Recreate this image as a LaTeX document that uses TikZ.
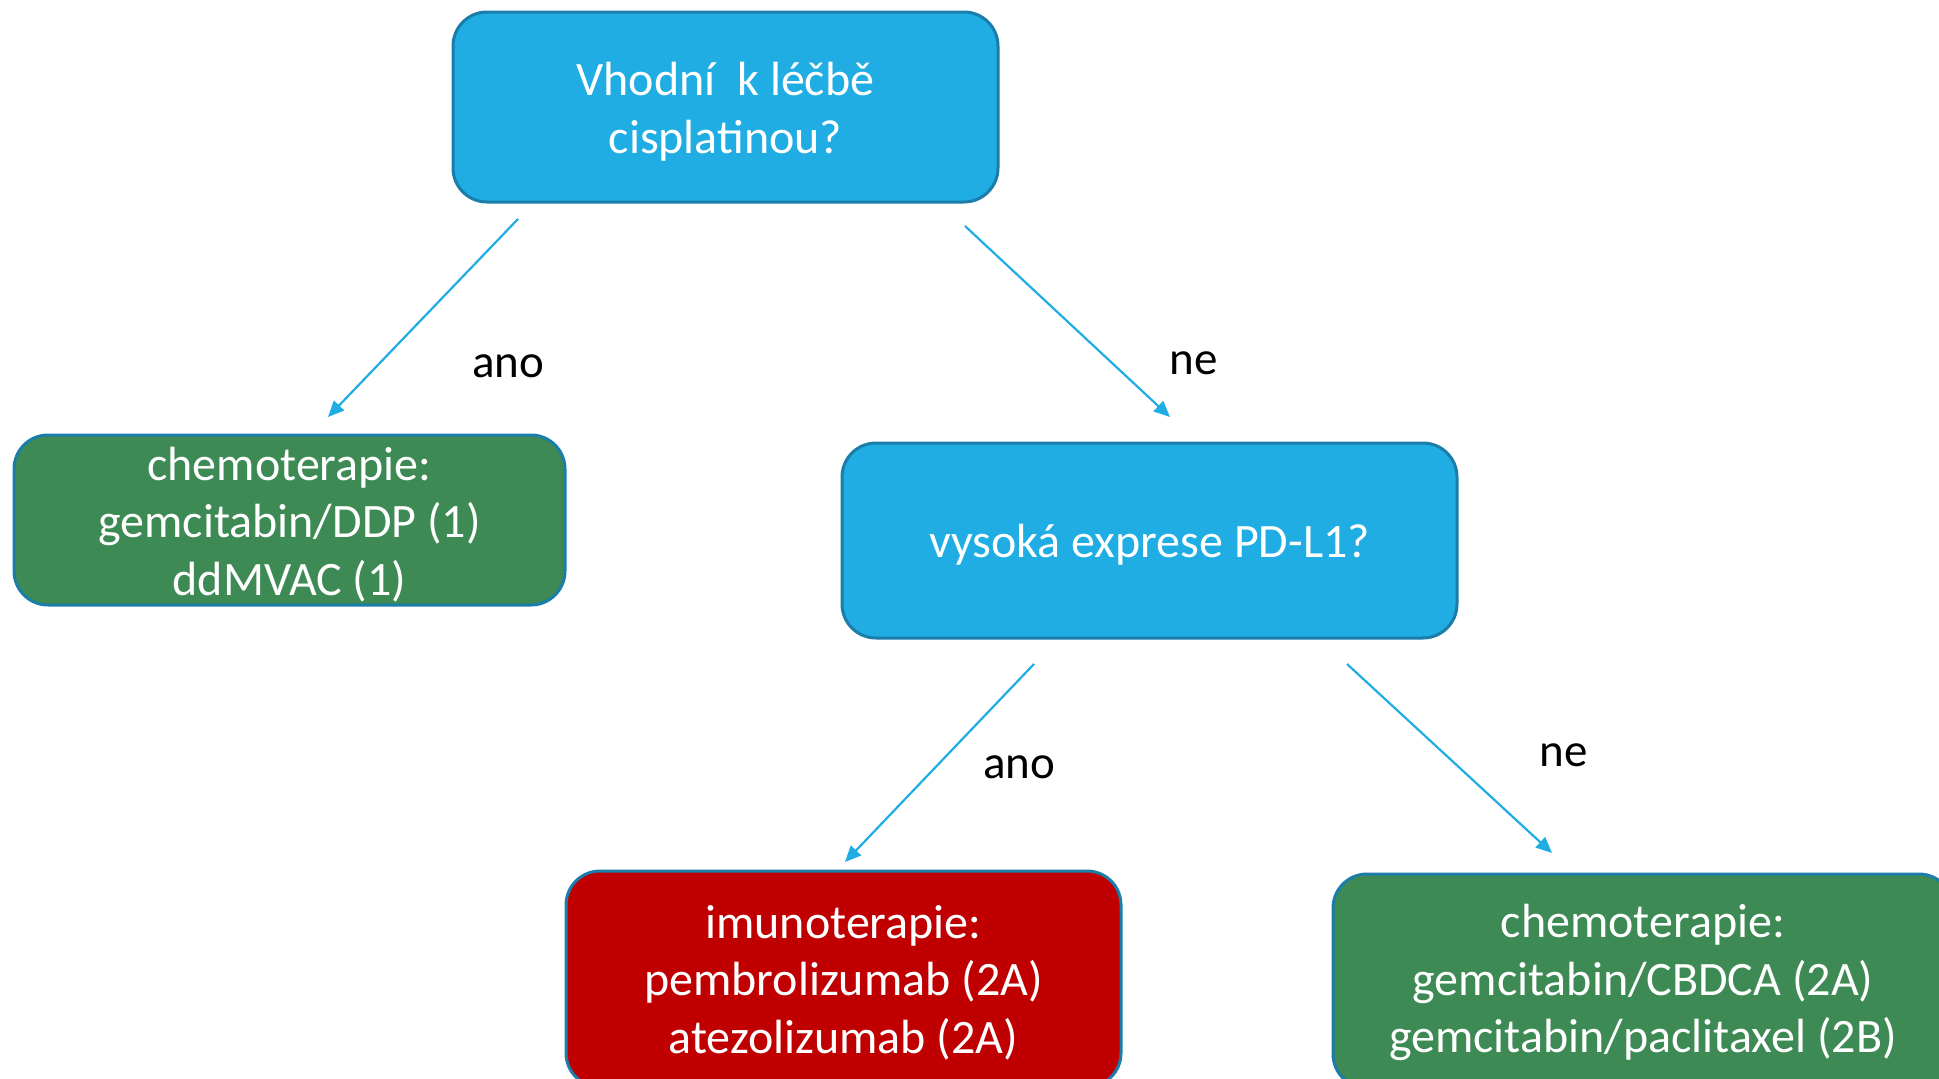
\documentclass[tikz,border=0pt]{standalone}
\usepackage{fontspec}
\setmainfont{Carlito}
\usetikzlibrary{arrows.meta}
\definecolor{boxblue}{HTML}{1FADE3}
\definecolor{edgeblue}{HTML}{1A7DAA}
\definecolor{boxgreen}{HTML}{3D8A54}
\definecolor{boxred}{HTML}{C00000}
\definecolor{arrowblue}{HTML}{1FADE3}
\tikzset{
  box/.style={draw=edgeblue, line width=3pt, rounded corners=34pt, inner sep=0pt},
  boxtext/.style={text=white, align=center, inner sep=0pt, font=\fontsize{48}{57.5}\selectfont},
  conn/.style={draw=arrowblue, line width=2.2pt, -{Triangle[length=16pt,width=14pt]}},
  lbl/.style={text=black, font=\fontsize{47}{55}\selectfont, inner sep=0pt}
}
\begin{document}
\begin{tikzpicture}[x=1pt,y=-1pt]
\clip (0,0) rectangle (1939,1079);
\fill[white] (0,0) rectangle (1939,1079);
\node[box, fill=boxblue, minimum width=545pt, minimum height=190pt] (q1) at (725.5,107) {};
\node[boxtext] (q1t) at ([yshift=-4.5pt]q1.center) {Vhodní\ \ k léčbě\\cisplatinou?};
\node[box, fill=boxgreen, minimum width=551pt, minimum height=170pt] (chemo1) at (289.5,520) {};
\node[boxtext] (chemo1t) at ([yshift=-4.5pt]chemo1.center) {chemoterapie:\\gemcitabin/DDP (1)\\ddMVAC (1)};
\node[box, fill=boxblue, minimum width=615pt, minimum height=195pt] (q2) at (1149.5,540.5) {};
\node[boxtext] (q2t) at ([yshift=-4.5pt]q2.center) {vysoká exprese PD-L1?};
\node[box, fill=boxred, minimum width=555pt, minimum height=216pt] (imuno) at (843.5,979) {};
\node[boxtext] (imunot) at ([yshift=-3.5pt]imuno.center) {imunoterapie:\\pembrolizumab (2A)\\atezolizumab (2A)};
\node[box, fill=boxgreen, minimum width=620pt, minimum height=214pt] (chemo2) at (1643,981) {};
\node[boxtext] (chemo2t) at ([yshift=-1.5pt]chemo2.center) {chemoterapie:\\gemcitabin/CBDCA (2A)\\gemcitabin/paclitaxel (2B)};
\coordinate (a1s) at (518,219);
\coordinate (a1e) at (328,417);
\coordinate (a2s) at (965,226);
\coordinate (a2e) at (1170,417);
\coordinate (a3s) at (1034,664);
\coordinate (a3e) at (845,862);
\coordinate (a4s) at (1347,664);
\coordinate (a4e) at (1552,853);
\draw[conn] (a1s) -- (a1e);
\draw[conn] (a2s) -- (a2e);
\draw[conn] (a3s) -- (a3e);
\draw[conn] (a4s) -- (a4e);
\node[lbl] (l1) at (508,366) {ano};
\node[lbl] (l2) at (1194,363) {ne};
\node[lbl] (l3) at (1019,767) {ano};
\node[lbl] (l4) at (1564,755) {ne};
\end{tikzpicture}
\end{document}
